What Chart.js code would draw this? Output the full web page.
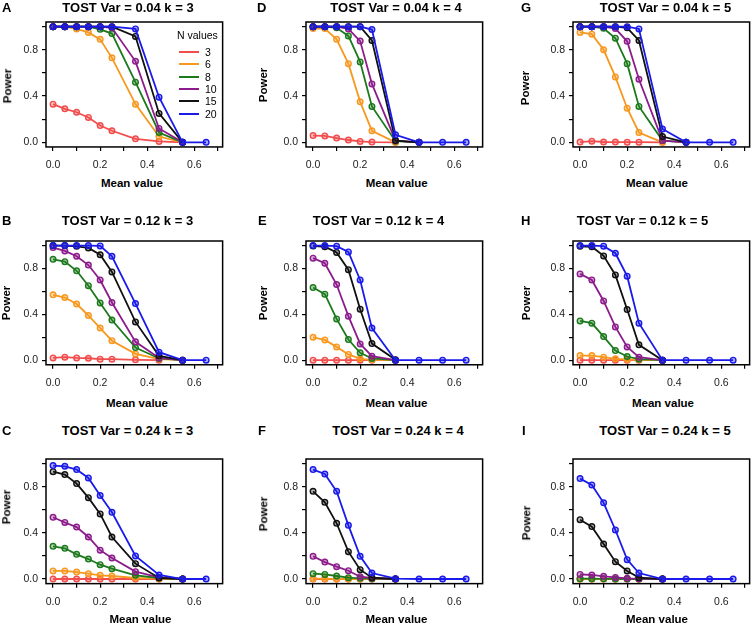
<!DOCTYPE html>
<html><head><meta charset="utf-8">
<script src="https://cdn.jsdelivr.net/npm/chart.js@4"></script>
<style>
html,body{margin:0;padding:0;background:#fff;}
body{width:753px;height:625px;position:relative;overflow:hidden;font-family:"Liberation Sans",Arial,Helvetica,sans-serif;}
.t{position:absolute;white-space:nowrap;color:#000;}
canvas{position:absolute;}
</style></head><body>
<script>
// ---------- data ----------
const meanValues = [0, 0.05, 0.1, 0.15, 0.2, 0.25, 0.35, 0.45, 0.55, 0.65];
const nValues = ['3', '6', '8', '10', '15', '20'];
const xTickValues = [0, 0.1, 0.2, 0.3, 0.4, 0.5, 0.6, 0.7];
const xTickLabels = ['0.0', '', '0.2', '', '0.4', '', '0.6', ''];
const yTickValues = [0, 0.2, 0.4, 0.6, 0.8, 1.0];
const yTickLabels = ['0.0', '', '0.4', '', '0.8', ''];
const panelLetters = ['A', 'D', 'G', 'B', 'E', 'H', 'C', 'F', 'I'];
const panelTitles = [
  'TOST Var = 0.04 k = 3', 'TOST Var = 0.04 k = 4', 'TOST Var = 0.04 k = 5',
  'TOST Var = 0.12 k = 3', 'TOST Var = 0.12 k = 4', 'TOST Var = 0.12 k = 5',
  'TOST Var = 0.24 k = 3', 'TOST Var = 0.24 k = 4', 'TOST Var = 0.24 k = 5'
];
// power values, one row per N value (3, 6, 8, 10, 15, 20)
const powerA = [
  [0.33, 0.29, 0.26, 0.215, 0.145, 0.10, 0.03, 0.008, 0, null],
  [1, 1, 0.98, 0.95, 0.89, 0.73, 0.33, 0.05, 0, null],
  [1, 1, 1, 1, 0.977, 0.94, 0.52, 0.085, 0, null],
  [1, 1, 1, 1, 1, 0.99, 0.70, 0.12, 0, null],
  [1, 1, 1, 1, 1, 1, 0.915, 0.25, 0, null],
  [1, 1, 1, 1, 1, 1, 0.98, 0.39, 0, 0]
];
const powerD = [
  [0.058, 0.055, 0.037, 0.02, 0.008, 0.002, 0, null, null, null],
  [0.983, 0.983, 0.89, 0.68, 0.35, 0.10, 0, null, null, null],
  [1, 1, 0.99, 0.92, 0.695, 0.31, 0.01, 0, null, null],
  [1, 1, 1, 0.98, 0.875, 0.505, 0.015, 0, null, null],
  [1, 1, 1, 1, 1, 0.88, 0.015, 0, null, null],
  [1, 1, 1, 1, 1, 0.975, 0.065, 0, 0, 0]
];
const powerG = [
  [0.002, 0.01, 0.003, 0.002, 0.001, 0.001, 0, null, null, null],
  [0.95, 0.935, 0.80, 0.565, 0.295, 0.085, 0, null, null, null],
  [1, 1, 0.985, 0.90, 0.68, 0.31, 0.015, 0, null, null],
  [1, 1, 1, 0.983, 0.873, 0.545, 0.015, 0, null, null],
  [1, 1, 1, 1, 0.99, 0.88, 0.05, 0, null, null],
  [1, 1, 1, 1, 1, 0.98, 0.115, 0, 0, 0]
];
const powerB = [
  [0.02, 0.026, 0.02, 0.017, 0.009, 0.009, 0.003, 0, null, null],
  [0.57, 0.547, 0.49, 0.39, 0.28, 0.17, 0.055, 0.01, 0, null],
  [0.88, 0.86, 0.78, 0.65, 0.50, 0.35, 0.11, 0.015, 0, null],
  [0.983, 0.953, 0.907, 0.83, 0.70, 0.503, 0.16, 0.02, 0, null],
  [1, 1, 0.994, 0.98, 0.92, 0.77, 0.334, 0.038, 0, null],
  [1, 1, 1, 1, 0.997, 0.907, 0.494, 0.07, 0, 0]
];
const powerE = [
  [0, 0, 0, 0, 0, 0, 0, null, null, null],
  [0.20, 0.177, 0.116, 0.05, 0.012, 0.003, 0, null, null, null],
  [0.634, 0.576, 0.36, 0.18, 0.064, 0.015, 0, null, null, null],
  [0.89, 0.846, 0.66, 0.384, 0.142, 0.035, 0, null, null, null],
  [0.997, 0.99, 0.94, 0.79, 0.445, 0.145, 0.003, null, null, null],
  [1, 1, 0.995, 0.945, 0.70, 0.28, 0, 0, 0, 0]
];
const powerH = [
  [0, 0, 0, 0, 0, 0, 0, null, null, null],
  [0.04, 0.04, 0.026, 0.012, 0.006, 0.003, 0, null, null, null],
  [0.343, 0.323, 0.206, 0.084, 0.032, 0.009, 0, null, null, null],
  [0.753, 0.70, 0.517, 0.29, 0.116, 0.026, 0, null, null, null],
  [0.994, 0.99, 0.91, 0.744, 0.442, 0.134, 0, null, null, null],
  [1, 1, 0.995, 0.933, 0.733, 0.323, 0, 0, 0, 0]
];
const powerC = [
  [0, 0, 0, 0, 0, 0, 0, 0, 0, null],
  [0.07, 0.07, 0.06, 0.046, 0.032, 0.026, 0.009, 0.003, 0, null],
  [0.283, 0.266, 0.214, 0.173, 0.124, 0.09, 0.032, 0.009, 0, null],
  [0.535, 0.49, 0.45, 0.364, 0.25, 0.182, 0.064, 0.014, 0, null],
  [0.93, 0.905, 0.827, 0.705, 0.564, 0.364, 0.133, 0.009, 0, null],
  [0.983, 0.977, 0.948, 0.876, 0.723, 0.578, 0.20, 0.035, 0, 0]
];
const powerF = [
  [0, 0, 0, 0, 0, 0, 0, null, null, null],
  [0.003, 0.002, 0.001, 0, 0, 0, 0, null, null, null],
  [0.046, 0.04, 0.026, 0.012, 0.006, 0.003, 0, null, null, null],
  [0.197, 0.147, 0.107, 0.072, 0.02, 0.009, 0, null, null, null],
  [0.76, 0.665, 0.483, 0.237, 0.081, 0.012, 0, null, null, null],
  [0.948, 0.91, 0.76, 0.465, 0.197, 0.052, 0.003, 0, 0, 0]
];
const powerI = [
  [0, 0, 0, 0, 0, 0, 0, null, null, null],
  [0, 0, 0, 0, 0, 0, 0, null, null, null],
  [0.003, 0.003, 0.002, 0.001, 0, 0, 0, null, null, null],
  [0.04, 0.035, 0.023, 0.014, 0.006, 0.003, 0, null, null, null],
  [0.514, 0.454, 0.303, 0.15, 0.07, 0.012, 0, null, null, null],
  [0.87, 0.815, 0.66, 0.425, 0.168, 0.052, 0, 0, 0, 0]
];
const panelPower = [powerA, powerD, powerG, powerB, powerE, powerH, powerC, powerF, powerI];

// ---------- styles / layout ----------
const seriesColors = ['#f24d4d', '#f7981f', '#1c7a1c', '#8c1c8c', '#111111', '#1a1aeb'];
const seriesFills = ['rgba(242,77,77,0.35)', 'rgba(247,152,31,0.35)', 'rgba(28,122,28,0.35)',
                     'rgba(140,28,140,0.35)', 'rgba(17,17,17,0.3)', 'rgba(26,26,235,0.35)'];
const FONT = '"Liberation Sans", Arial, Helvetica, sans-serif';
const X_MIN = -0.03, X_MAX = 0.72, Y_MIN = -0.04, Y_MAX = 1.04;
const PXU = 235.5; // pixels per x unit
const colX0 = [52.7, 313.3, 580];
const rowY = [[142.3, 26.6], [360.3, 245.7], [578.7, 463.3]];
// per panel: letter x, title centre x, power label centre (x,y), mean label centre x
const textPos = [
  {lx: 2,   tx: 128,   px: 8,   py: 86,  mx: 132},
  {lx: 257, tx: 396,   px: 264, py: 85,  mx: 396.7},
  {lx: 521, tx: 665.5, px: 526, py: 88,  mx: 657},
  {lx: 2,   tx: 127.5, px: 7,   py: 303, mx: 137},
  {lx: 258, tx: 378.5, px: 264, py: 303, mx: 396.5},
  {lx: 521, tx: 642.5, px: 527, py: 303, mx: 663},
  {lx: 2,   tx: 127.5, px: 7,   py: 507, mx: 140.5},
  {lx: 258, tx: 398,   px: 264, py: 514, mx: 396.5},
  {lx: 522, tx: 665,   px: 527, py: 523, mx: 657}
];
const titleBaseline = [11.7, 225, 435];
const meanBaseline = [187.7, 408, 624];

function addText(txt, size, bold, left, baseline, align) {
  const d = document.createElement('div');
  d.className = 't';
  d.textContent = txt;
  d.style.fontSize = size + 'px';
  d.style.lineHeight = size + 'px';
  d.style.fontWeight = bold ? 'bold' : 'normal';
  d.style.top = (baseline - 0.8465 * size) + 'px';
  d.style.left = left + 'px';
  if (align === 'center') d.style.transform = 'translateX(-50%)';
  document.body.appendChild(d);
  return d;
}
function addVText(txt, size, cx, cy) {
  const d = document.createElement('div');
  d.className = 't';
  d.textContent = txt;
  d.style.fontSize = size + 'px';
  d.style.lineHeight = size + 'px';
  d.style.fontWeight = 'bold';
  d.style.left = cx + 'px';
  d.style.top = cy + 'px';
  d.style.transform = 'translate(-50%,-50%) rotate(-90deg)';
  document.body.appendChild(d);
}

const boxPlugin = {
  id: 'box',
  afterDatasetsDraw(chart) {
    const {ctx, chartArea: a} = chart;
    ctx.save();
    ctx.strokeStyle = '#000';
    ctx.lineWidth = 1.5;
    ctx.strokeRect(a.left, a.top, a.right - a.left, a.bottom - a.top);
    ctx.restore();
  }
};

const AXW = 40, AXH = 30, PADT = 14, PADR = 8;

function makePanel(idx) {
  const col = idx % 3, row = Math.floor(idx / 3);
  const x0 = colX0[col];
  const [y0, y1] = rowY[row];
  const unit = y0 - y1;
  const boxLeft = x0 + X_MIN * PXU, boxRight = x0 + X_MAX * PXU;
  const boxTop = y1 - (Y_MAX - 1) * unit, boxBottom = y0 - Y_MIN * unit;
  const bw = boxRight - boxLeft, bh = boxBottom - boxTop;
  const cl = boxLeft - AXW, ct = boxTop - PADT;
  const cw = Math.round(bw + AXW + PADR), ch = Math.round(bh + PADT + AXH);
  const c = document.createElement('canvas');
  c.width = cw; c.height = ch;
  c.style.width = cw + 'px'; c.style.height = ch + 'px';
  c.style.left = cl + 'px'; c.style.top = ct + 'px';
  document.body.appendChild(c);
  const realPadR = cw - AXW - bw;
  const realAXH = ch - PADT - bh;

  const power = panelPower[idx];
  const datasets = power.map((vals, i) => ({
    label: nValues[i],
    data: meanValues.map((x, j) => ({x: x, y: vals[j]})).filter(p => p.y !== null),
    borderColor: seriesColors[i],
    backgroundColor: seriesFills[i],
    pointBackgroundColor: seriesFills[i],
    pointBorderColor: seriesColors[i],
    borderWidth: 1.8,
    pointRadius: 2.8,
    pointBorderWidth: 1.4,
    tension: 0,
    order: 5 - i,
    clip: 6
  }));

  const tickFont = {family: FONT, size: 10.5};
  new Chart(c, {
    type: 'line',
    data: {datasets},
    options: {
      responsive: false,
      animation: false,
      devicePixelRatio: 1,
      events: [],
      layout: {padding: {top: PADT, right: realPadR, left: 0, bottom: 0}},
      plugins: {legend: {display: false}, tooltip: {enabled: false}, title: {display: false}},
      scales: {
        x: {
          type: 'linear', min: X_MIN, max: X_MAX,
          afterBuildTicks: s => { s.ticks = xTickValues.map(v => ({value: v})); },
          afterFit: s => { s.height = realAXH; },
          ticks: {callback: (v, i) => xTickLabels[i], font: tickFont, color: '#222',
                  padding: 8, maxRotation: 0, minRotation: 0, autoSkip: false},
          grid: {drawOnChartArea: false, drawTicks: true, tickLength: 4, color: '#000', lineWidth: 1.2},
          border: {display: false}
        },
        y: {
          type: 'linear', min: Y_MIN, max: Y_MAX,
          afterBuildTicks: s => { s.ticks = yTickValues.map(v => ({value: v})); },
          afterFit: s => { s.width = AXW; },
          ticks: {callback: (v, i) => yTickLabels[i], font: tickFont, color: '#222',
                  padding: 4, autoSkip: false},
          grid: {drawOnChartArea: false, drawTicks: true, tickLength: 4, color: '#000', lineWidth: 1.2},
          border: {display: false}
        }
      }
    },
    plugins: [boxPlugin]
  });

  const tp = textPos[idx];
  addText(panelLetters[idx], 13, true, tp.lx, titleBaseline[row]);
  addText(panelTitles[idx], 13, true, tp.tx, titleBaseline[row], 'center');
  addVText('Power', 11.5, tp.px, tp.py);
  addText('Mean value', 11.5, true, tp.mx, meanBaseline[row], 'center');
}

for (let i = 0; i < 9; i++) makePanel(i);

// legend in panel A
addText('N values', 10.5, false, 177, 39.3);
const legendY = [52.3, 64.3, 76.7, 89, 101.3, 113.7];
nValues.forEach((n, i) => {
  const l = document.createElement('div');
  l.style.position = 'absolute';
  l.style.left = '179px';
  l.style.width = '20px';
  l.style.top = (legendY[i] - 1) + 'px';
  l.style.height = '2px';
  l.style.background = seriesColors[i];
  document.body.appendChild(l);
  addText(n, 10.5, false, 205, legendY[i] + 3.8);
});
</script>
</body></html>
